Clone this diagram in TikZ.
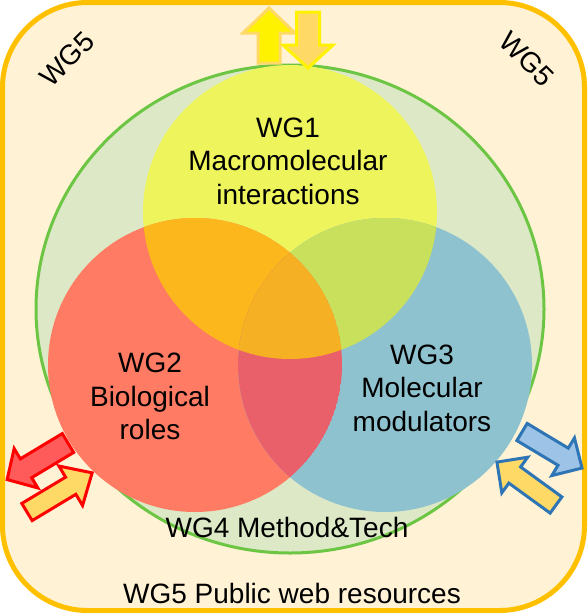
\documentclass[tikz,border=0pt]{standalone}
\usepackage{fontspec}
\setmainfont{Liberation Sans}
\definecolor{wgborder}{HTML}{FFC000}
\definecolor{wgcream}{HTML}{FFF2D5}
\definecolor{wggreen}{HTML}{6CC644}
\definecolor{wggreenfill}{HTML}{DDE8C6}
\definecolor{wgyellow}{HTML}{EEF45C}
\definecolor{wgred}{HTML}{FF7B63}
\definecolor{wgblue}{HTML}{8FC2CF}
\definecolor{wgyr}{HTML}{FBB71C}
\definecolor{wgyb}{HTML}{C8E05C}
\definecolor{wgrb}{HTML}{E9606B}
\definecolor{wgall}{HTML}{F5B024}
\definecolor{arrowgold}{HTML}{FFD966}
\definecolor{arrowred}{HTML}{FF5B5B}
\definecolor{arrowblue}{HTML}{9DC3E6}
\definecolor{arrowdarkblue}{HTML}{2E75B6}
% block arrow: style, tail, angle, length, shaft half width, head half width, head length
\newcommand{\blockarrow}[7][]{%
  \draw[#1,shift={#2},rotate=#3] (0,-#5) -- ({#4-#7},-#5) -- ({#4-#7},-#6) -- (#4,0)
    -- ({#4-#7},#6) -- ({#4-#7},#5) -- (0,#5) -- cycle;}
\tikzset{
  wgtext/.style={font=\fontsize{28}{33.5}\selectfont, align=center, inner sep=0pt},
  barrow/.style={line width=3pt, line join=miter}
}
\begin{document}
\begin{tikzpicture}[x=1pt,y=-1pt]
        \useasboundingbox (0,0) rectangle (587,613);
        %frame
        \draw [wgborder,fill=wgcream,line width=5pt,rounded corners=85pt] (2.5,2.5) rectangle (584.5,610.5);
        %WG4
        \draw [wggreen,fill=wggreenfill,line width=3pt] (290,309) ellipse (254pt and 244pt);
        %centres
        \coordinate (cy) at (290,212);
        \coordinate (cr) at (195,365);
        \coordinate (cb) at (385,365);
        \fill [wgyellow] (cy) circle (147pt);
        \fill [wgred] (cr) circle (147pt);
        \fill [wgblue] (cb) circle (147pt);
        %overlaps
        \begin{scope}
            \clip (cy) circle (147pt);
            \fill [wgyr] (cr) circle (147pt);
            \fill [wgyb] (cb) circle (147pt);
            \clip (cr) circle (147pt);
            \fill [wgall] (cb) circle (147pt);
        \end{scope}
        \begin{scope}
            \clip (cr) circle (147pt);
            \clip (cb) circle (147pt);
            \fill [wgrb] (cr) circle (147pt);
            \clip (cy) circle (147pt);
            \fill [wgall] (cy) circle (147pt);
        \end{scope}
        %labels
        \node [wgtext] (wg1) at (288,161) {WG1\\Macromolecular\\interactions};
        \node [wgtext] (wg2) at (150,396.5) {WG2\\Biological\\roles};
        \node [wgtext] (wg3) at (422,388) {WG3\\Molecular\\modulators};
        \node [wgtext,anchor=base] (wg4) at (287,537) {WG4 Method\&Tech};
        \node [wgtext,anchor=base] (wg5) at (292,603) {WG5 Public web resources};
        \node [wgtext,rotate=45] (wg5l) at (67,59) {WG5};
        \node [wgtext,rotate=-45] (wg5r) at (527,59) {WG5};
        %top arrows
        \blockarrow[barrow,draw=arrowgold,fill=yellow]{(269,63)}{90}{55}{11}{26}{25}
        \blockarrow[barrow,draw=yellow,fill=arrowgold]{(308,12)}{-90}{56}{11.5}{25}{23}
        %left arrows
        \blockarrow[barrow,draw=red,fill=arrowred]{(68,443)}{211}{71}{11}{23}{22}
        \blockarrow[barrow,draw=red,fill=arrowgold]{(27,512)}{31}{76}{10}{23}{25}
        %right arrows
        \blockarrow[barrow,draw=arrowdarkblue,fill=arrowblue]{(522,432)}{-31}{70}{10}{22}{22}
        \blockarrow[barrow,draw=arrowdarkblue,fill=arrowgold]{(556,505)}{144}{73}{10}{22}{22}
    \end{tikzpicture}
\end{document}
